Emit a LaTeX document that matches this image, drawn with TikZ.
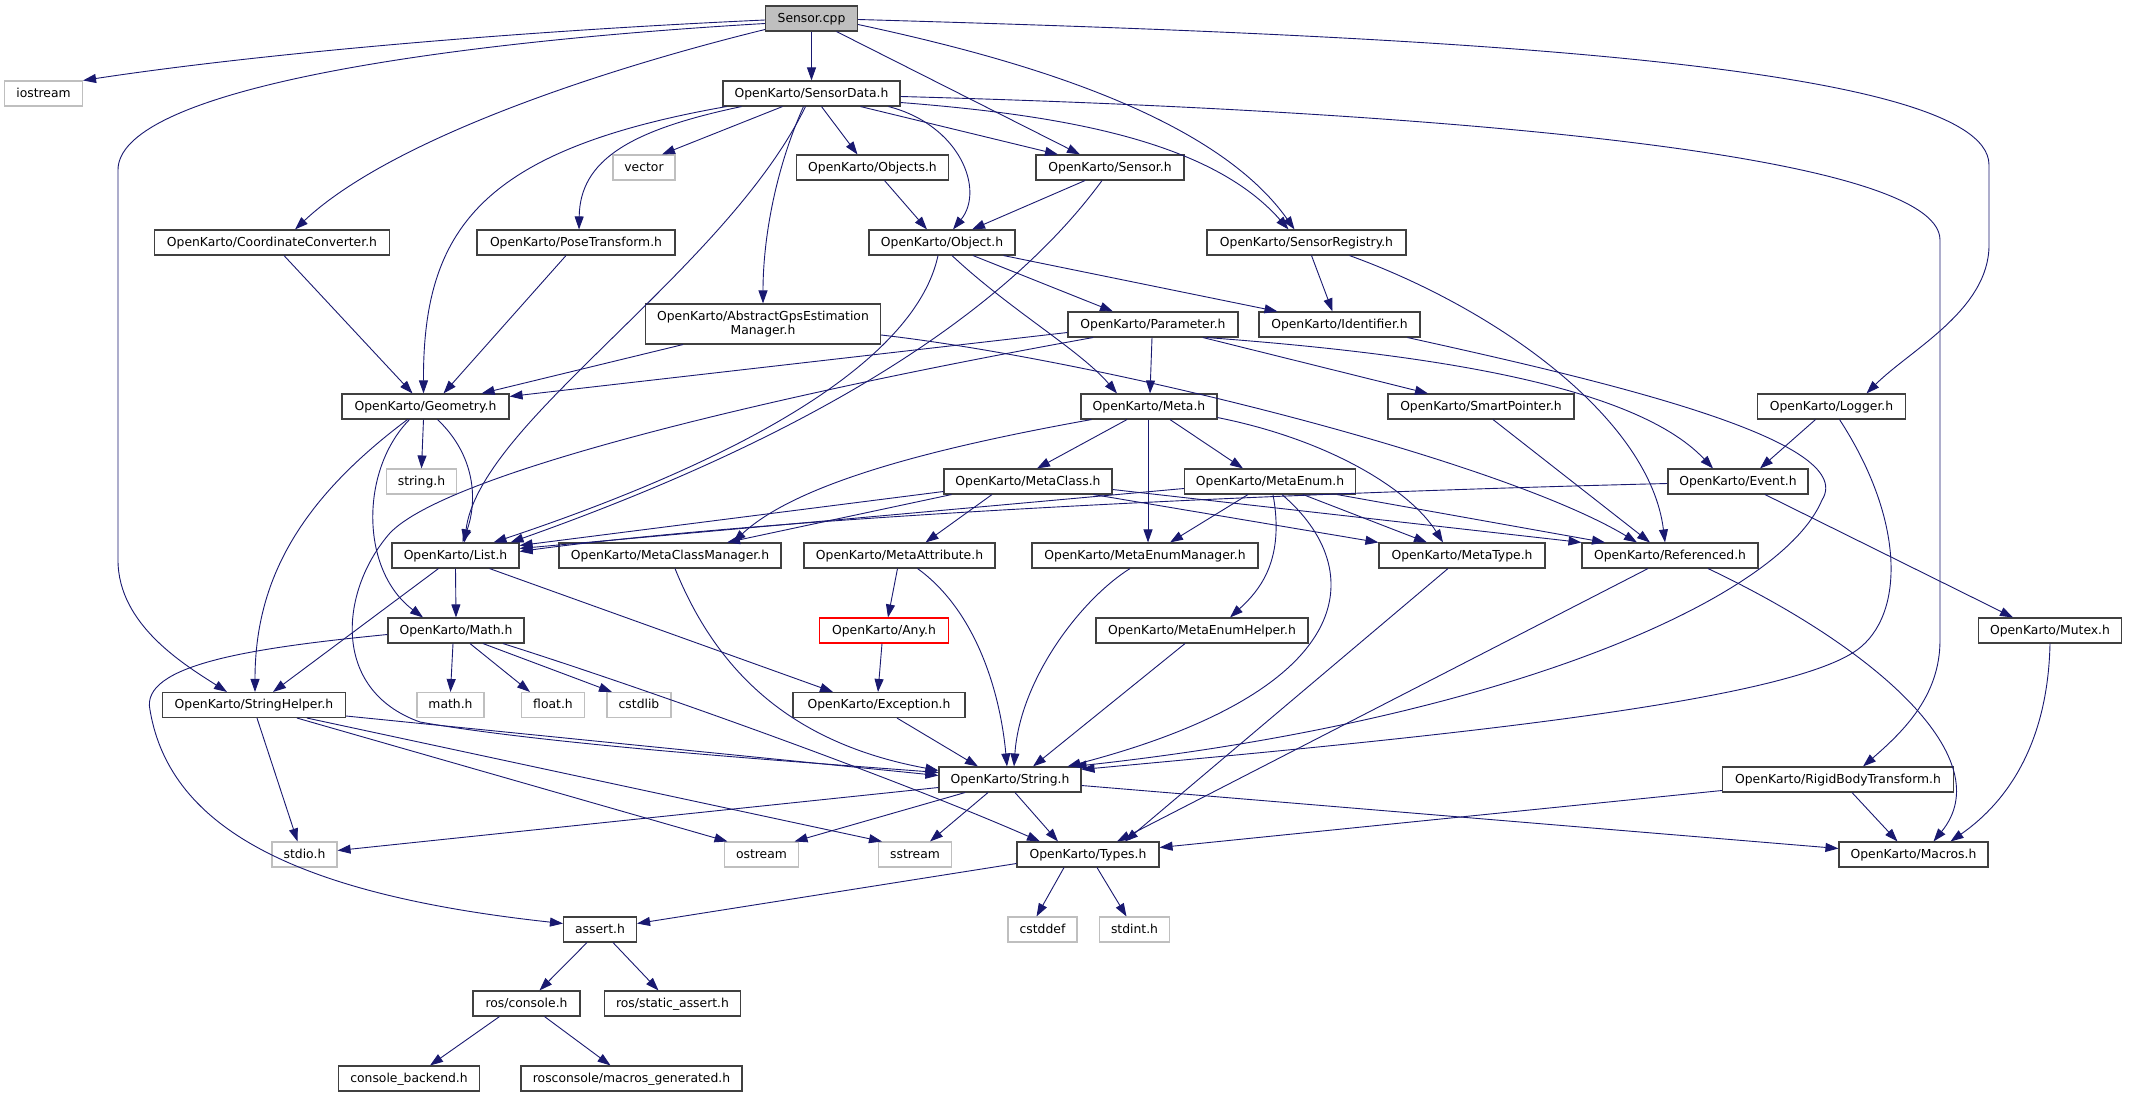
\documentclass[tikz,border=0pt]{standalone}
\usepackage{fontspec}
\setmainfont{DejaVu Sans}
\usetikzlibrary{arrows.meta}
\definecolor{edgec}{HTML}{191970}
\definecolor{bord}{HTML}{404040}
\definecolor{grayb}{HTML}{BFBFBF}
\begin{document}
\begin{tikzpicture}[x=1pt,y=-1pt,
  nb/.style={draw=bord, line width=1.1pt, fill=white, inner sep=0pt, minimum height=25pt, font=\fontsize{12.36pt}{14.3pt}\selectfont},
  nd/.style={nb, text height=9.5pt, text depth=2pt},
  gn/.style={nd, draw=grayb},
  ed/.style={draw=edgec, line width=0.9pt, -{Triangle[length=13pt,width=9pt]}}]
\fill[white] (0,0) rectangle (2144,1097);
\useasboundingbox (0,0) rectangle (2144,1097);
% ---------- nodes ----------
\node[nd, fill=grayb, minimum width=92pt] (sensorcpp) at (811.5,18.5) {Sensor.cpp};
\node[gn, minimum width=78pt] (iostream) at (43.5,93.5) {iostream};
\node[nd, minimum width=177pt] (sd) at (811.5,93.5) {OpenKarto/SensorData.h};
\node[gn, minimum width=62pt] (vector) at (644,167.5) {vector};
\node[nd, minimum width=152pt] (objects) at (872.5,167.5) {OpenKarto/Objects.h};
\node[nd, minimum width=148pt] (sensorh) at (1110,167.5) {OpenKarto/Sensor.h};
\node[nd, minimum width=235pt] (coord) at (272,242.5) {OpenKarto/CoordinateConverter.h};
\node[nd, minimum width=198pt] (pose) at (576,242.5) {OpenKarto/PoseTransform.h};
\node[nd, minimum width=146pt] (object) at (942,242.5) {OpenKarto/Object.h};
\node[nd, minimum width=199pt] (sreg) at (1306.5,242.5) {OpenKarto/SensorRegistry.h};
\node[nb, minimum width=235pt, minimum height=40pt, align=center] (agps) at (763,324) {OpenKarto/AbstractGpsEstimation\\Manager.h};
\node[nd, minimum width=170pt] (param) at (1153,324.5) {OpenKarto/Parameter.h};
\node[nd, minimum width=161pt] (ident) at (1339.5,324.5) {OpenKarto/Identifier.h};
\node[nd, minimum width=167pt] (geo) at (425.5,406.5) {OpenKarto/Geometry.h};
\node[nd, minimum width=136pt] (meta) at (1149,406.5) {OpenKarto/Meta.h};
\node[nd, minimum width=186pt] (smart) at (1481,406.5) {OpenKarto/SmartPointer.h};
\node[nd, minimum width=148pt] (logger) at (1831.5,406.5) {OpenKarto/Logger.h};
\node[gn, minimum width=70pt] (stringh) at (421.5,481.5) {string.h};
\node[nd, minimum width=168pt] (mclass) at (1028,481.5) {OpenKarto/MetaClass.h};
\node[nd, minimum width=171pt] (menum) at (1270,481.5) {OpenKarto/MetaEnum.h};
\node[nd, minimum width=140pt] (event) at (1738,481.5) {OpenKarto/Event.h};
\node[nd, minimum width=127pt] (list) at (455.5,555.5) {OpenKarto/List.h};
\node[nd, minimum width=222pt] (mcm) at (670,555.5) {OpenKarto/MetaClassManager.h};
\node[nd, minimum width=191pt] (mattr) at (899.5,555.5) {OpenKarto/MetaAttribute.h};
\node[nd, minimum width=226pt] (mem) at (1145,555.5) {OpenKarto/MetaEnumManager.h};
\node[nd, minimum width=166pt] (mtype) at (1462,555.5) {OpenKarto/MetaType.h};
\node[nd, minimum width=176pt] (ref) at (1670,555.5) {OpenKarto/Referenced.h};
\node[nd, minimum width=136pt] (math) at (456,630.5) {OpenKarto/Math.h};
\node[nd, draw=red, minimum width=129pt] (any) at (884,630.5) {OpenKarto/Any.h};
\node[nd, minimum width=212pt] (meh) at (1202,630.5) {OpenKarto/MetaEnumHelper.h};
\node[nd, minimum width=143pt] (mutex) at (2050,630.5) {OpenKarto/Mutex.h};
\node[nd, minimum width=183pt] (shelper) at (254,705) {OpenKarto/StringHelper.h};
\node[gn, minimum width=67pt] (mathh) at (450.5,705) {math.h};
\node[gn, minimum width=63pt] (floath) at (553,705) {float.h};
\node[gn, minimum width=64pt] (cstdlib) at (639,705) {cstdlib};
\node[nd, minimum width=172pt] (exc) at (879,705) {OpenKarto/Exception.h};
\node[nd, minimum width=142pt] (str) at (1010,779.5) {OpenKarto/String.h};
\node[nd, minimum width=231pt] (rigid) at (1838,779.5) {OpenKarto/RigidBodyTransform.h};
\node[gn, minimum width=65pt] (stdio) at (304.5,854.5) {stdio.h};
\node[gn, minimum width=74pt] (ostream) at (761.5,854.5) {ostream};
\node[gn, minimum width=73pt] (sstream) at (915,854.5) {sstream};
\node[nd, minimum width=142pt] (types) at (1088,854.5) {OpenKarto/Types.h};
\node[nd, minimum width=149pt] (macros) at (1913.5,854.5) {OpenKarto/Macros.h};
\node[nd, minimum width=73pt] (assert) at (600,929.5) {assert.h};
\node[gn, minimum width=69pt] (cstddef) at (1042.5,929.5) {cstddef};
\node[gn, minimum width=70pt] (stdint) at (1134.5,929.5) {stdint.h};
\node[nd, minimum width=107pt] (rcons) at (526.5,1003.5) {ros/console.h};
\node[nd, minimum width=136pt] (rsa) at (672.5,1003.5) {ros/static\_assert.h};
\node[nd, minimum width=141pt] (cback) at (409,1078.5) {console\_backend.h};
\node[nd, minimum width=221pt] (rmacro) at (631.5,1078.5) {rosconsole/macros\_generated.h};
% ---------- edges ----------
% Sensor.cpp
\draw[ed] ([yshift=-1.5pt]sensorcpp.west) .. controls (500,32) and (250,55) .. (iostream.north east);
\draw[ed] ([yshift=-5pt]sensorcpp.west) .. controls (400,45) and (118,95) .. (118,170) -- (118,560) .. controls (118,625) and (185,665) .. ([xshift=-27pt]shelper.north);
\draw[ed] ([yshift=-11pt]sensorcpp.west) .. controls (600,70) and (390,140) .. ([xshift=23pt]coord.north);
\draw[ed] (sensorcpp) -- (sd);
\draw[ed] ([xshift=25pt]sensorcpp.south) -- ([xshift=-30pt]sensorh.north);
\draw[ed] ([yshift=-6pt]sensorcpp.east) .. controls (1000,55) and (1210,110) .. ([xshift=-12pt]sreg.north);
\draw[ed] ([yshift=-1pt]sensorcpp.east) .. controls (1400,35) and (1989,60) .. (1989,165) -- (1989,245) .. controls (1989,310) and (1910,350) .. ([xshift=35pt]logger.north);
% SensorData.h
\draw[ed] ([xshift=-29pt]sd.south) -- ([xshift=18pt]vector.north);
\draw[ed] ([xshift=10pt]sd.south) -- ([xshift=-15pt]objects.north);
\draw[ed] ([xshift=49pt]sd.south) -- ([xshift=-52pt]sensorh.north);
\draw[ed] ([xshift=77pt]sd.south) .. controls (960,125) and (985,190) .. ([xshift=11pt]object.north);
\draw[ed] ([yshift=-9pt]sd.east) .. controls (1060,115) and (1210,140) .. ([xshift=-18pt]sreg.north);
\draw[ed] ([yshift=-3pt]sd.east) .. controls (1400,110) and (1940,150) .. (1940,240) -- (1940,640) .. controls (1940,695) and (1905,730) .. ([xshift=25pt]rigid.north);
\draw[ed] ([xshift=-70pt]sd.south) .. controls (630,130) and (580,160) .. ([xshift=3pt]pose.north);
\draw[ed] ([xshift=-85pt]sd.south) .. controls (480,150) and (423,230) .. ([xshift=-2pt]geo.north);
\draw[ed] ([xshift=-6pt]sd.south) .. controls (760,200) and (660,290) .. (580,370) .. controls (530,420) and (472,480) .. ([xshift=9pt]list.north);
\draw[ed] ([xshift=-8pt]sd.south) .. controls (775,170) and (763,240) .. (agps.north);
% row 4
\draw[ed] ([xshift=12pt]coord.south) -- ([xshift=-13pt]geo.north);
\draw[ed] ([xshift=-10pt]pose.south) -- ([xshift=18pt]geo.north);
\draw[ed] ([xshift=12pt]objects.south) -- ([xshift=-15pt]object.north);
\draw[ed] ([xshift=-25pt]sensorh.south) -- ([xshift=30pt]object.north);
\draw[ed] ([xshift=-8pt]sensorh.south) .. controls (1000,320) and (800,440) .. ([xshift=55pt]list.north);
\draw[ed] ([xshift=-4pt]object.south) .. controls (920,340) and (800,440) .. ([xshift=38pt]list.north);
\draw[ed] ([xshift=10pt]object.south) .. controls (1010,310) and (1080,350) .. ([xshift=-32pt]meta.north);
\draw[ed] ([xshift=31pt]object.south) -- ([xshift=-40pt]param.north);
\draw[ed] ([xshift=-12pt]object.south east) -- ([xshift=-62pt]ident.north);
\draw[ed] ([xshift=5pt]sreg.south) -- ([xshift=-7pt]ident.north);
\draw[ed] ([xshift=43pt]sreg.south) .. controls (1500,310) and (1650,420) .. ([xshift=-5pt]ref.north);
% row 5
\draw[ed] ([xshift=-80pt]agps.south) -- ([xshift=-28pt]geo.north east);
\draw[ed] ([yshift=-11pt]agps.east) .. controls (1100,360) and (1500,460) .. ([xshift=-33pt]ref.north);
\draw[ed] ([yshift=-8pt]param.west) -- ([yshift=-3pt]geo.north east);
\draw[ed] ([xshift=-60pt]param.south) .. controls (800,390) and (450,470) .. (390,533) .. controls (340,590) and (330,690) .. (420,722) .. controls (550,745) and (800,762) .. ([yshift=7pt]str.west);
\draw[ed] ([xshift=-1pt]param.south) -- ([xshift=1pt]meta.north);
\draw[ed] ([xshift=50pt]param.south) -- ([xshift=-53pt]smart.north);
\draw[ed] ([xshift=54pt]param.south) .. controls (1400,352) and (1630,380) .. ([xshift=-25pt]event.north);
\draw[ed] ([xshift=68pt]ident.south) .. controls (1600,380) and (1860,440) .. (1822,500) .. controls (1780,600) and (1500,720) .. ([xshift=-8pt]str.north east);
% row 6
\draw[ed] ([xshift=-2pt]geo.south) -- (stringh.north);
\draw[ed] ([xshift=12pt]geo.south) .. controls (475,455) and (478,500) .. ([xshift=7pt]list.north);
\draw[ed] ([xshift=-16pt]geo.south) .. controls (360,470) and (360,570) .. ([xshift=-33pt]math.north);
\draw[ed] ([xshift=-18pt]geo.south) .. controls (300,500) and (255,580) .. ([xshift=1pt]shelper.north);
\draw[ed] ([xshift=11pt]meta.south west) .. controls (950,445) and (800,480) .. ([xshift=63pt]mcm.north);
\draw[ed] ([xshift=-22pt]meta.south) -- ([xshift=9pt]mclass.north);
\draw[ed] ([xshift=21pt]meta.south) -- ([xshift=-27pt]menum.north);
\draw[ed] ([xshift=-1pt]meta.south) -- ([xshift=3pt]mem.north);
\draw[ed] ([yshift=2pt]meta.south east) .. controls (1330,440) and (1410,490) .. ([xshift=-19pt]mtype.north);
\draw[ed] ([xshift=12pt]smart.south) -- ([xshift=-20pt]ref.north);
\draw[ed] ([xshift=-16pt]logger.south) -- ([xshift=22pt]event.north);
\draw[ed] ([xshift=8pt]logger.south) .. controls (1905,520) and (1905,615) .. (1857,650) .. controls (1780,705) and (1400,740) .. ([yshift=-3pt]str.north east);
% row 7
\draw[ed] ([yshift=-10pt]mclass.west) -- ([yshift=10pt]list.east);
\draw[ed] ([xshift=8pt]mclass.south west) -- ([xshift=57pt]mcm.north);
\draw[ed] ([xshift=-36pt]mclass.south) -- ([xshift=26pt]mattr.north);
\draw[ed] ([xshift=-19pt]mclass.south east) -- (mtype.north west);
\draw[ed] ([yshift=-8pt]mclass.east) -- (ref.north west);
\draw[ed] ([yshift=-7pt]menum.west) -- ([yshift=7pt]list.east);
\draw[ed] ([xshift=-22pt]menum.south) -- ([xshift=25pt]mem.north);
\draw[ed] ([xshift=3pt]menum.south) .. controls (1285,560) and (1260,590) .. ([xshift=28pt]meh.north);
\draw[ed] ([xshift=12pt]menum.south) .. controls (1370,570) and (1360,690) .. ([xshift=-14pt]str.north east);
\draw[ed] ([xshift=33pt]menum.south) -- ([xshift=-35pt]mtype.north);
\draw[ed] ([xshift=67pt]menum.south) -- ([xshift=-65pt]ref.north);
\draw[ed] ([yshift=-2pt]event.west) .. controls (1200,495) and (750,520) .. ([yshift=4pt]list.east);
\draw[ed] ([xshift=27pt]event.south) -- ([xshift=-37pt]mutex.north);
% row 8
\draw[ed] (list.south) -- (math.north);
\draw[ed] ([xshift=-17pt]list.south) -- ([xshift=19pt]shelper.north);
\draw[ed] ([xshift=34pt]list.south) -- ([xshift=-46pt]exc.north);
\draw[ed] ([xshift=5pt]mcm.south) .. controls (720,680) and (800,745) .. ([yshift=9pt]str.west);
\draw[ed] ([xshift=-2pt]mattr.south) -- ([xshift=4pt]any.north);
\draw[ed] ([xshift=18pt]mattr.south) .. controls (975,610) and (1000,690) .. ([xshift=-3pt]str.north);
\draw[ed] ([xshift=-15pt]mem.south) .. controls (1080,600) and (1020,680) .. ([xshift=4pt]str.north);
\draw[ed] ([xshift=-14pt]mtype.south) -- ([xshift=37pt]types.north);
\draw[ed] ([xshift=-22pt]ref.south) -- ([xshift=29pt]types.north);
\draw[ed] ([xshift=38pt]ref.south) .. controls (1880,650) and (2000,760) .. ([xshift=20pt]macros.north);
% row 9
\draw[ed] ([xshift=-3pt]math.south) -- (mathh.north);
\draw[ed] ([xshift=14pt]math.south) -- ([xshift=-23pt]floath.north);
\draw[ed] ([xshift=27pt]math.south) -- ([xshift=-27pt]cstdlib.north);
\draw[ed] ([yshift=-4pt]math.west) .. controls (250,648) and (140,665) .. (150,710) .. controls (170,830) and (300,895) .. ([yshift=6pt]assert.west);
\draw[ed] ([xshift=47pt]math.south) .. controls (650,690) and (900,780) .. ([xshift=-48pt]types.north);
\draw[ed] ([xshift=-2pt]any.south) -- ([xshift=-1pt]exc.north);
\draw[ed] ([xshift=-17pt]meh.south) -- ([xshift=23pt]str.north);
\draw[ed] (mutex.south) .. controls (2048,740) and (2010,800) .. ([xshift=37pt]macros.north);
% row 10
\draw[ed] ([xshift=3pt]shelper.south) -- ([xshift=-7pt]stdio.north);
\draw[ed] ([yshift=-11pt]shelper.east) -- ([yshift=4pt]str.west);
\draw[ed] ([xshift=43pt]shelper.south) -- ([xshift=-34pt]ostream.north);
\draw[ed] ([xshift=53pt]shelper.south) -- ([xshift=-33pt]sstream.north);
\draw[ed] ([xshift=18pt]exc.south) -- ([xshift=-32pt]str.north);
% row 11
\draw[ed] ([yshift=-8pt]str.west) -- ([yshift=4pt]stdio.east);
\draw[ed] ([xshift=-45pt]str.south) -- ([xshift=33pt]ostream.north);
\draw[ed] ([xshift=-22pt]str.south) -- ([xshift=15pt]sstream.north);
\draw[ed] ([xshift=5pt]str.south) -- ([xshift=-30pt]types.north);
\draw[ed] ([yshift=-6pt]str.east) -- ([yshift=6pt]macros.west);
\draw[ed] ([xshift=14pt]rigid.south) -- ([xshift=-16pt]macros.north);
\draw[ed] ([yshift=-11pt]rigid.west) -- ([yshift=7pt]types.east);
% row 12
\draw[ed] ([yshift=-9pt]types.west) -- ([yshift=6pt]assert.east);
\draw[ed] ([xshift=-24pt]types.south) -- ([xshift=-6pt]cstddef.north);
\draw[ed] ([xshift=9pt]types.south) -- ([xshift=-8pt]stdint.north);
% row 13-14
\draw[ed] ([xshift=-13pt]assert.south) -- ([xshift=13pt]rcons.north);
\draw[ed] ([xshift=13pt]assert.south) -- ([xshift=-14pt]rsa.north);
\draw[ed] ([xshift=-27pt]rcons.south) -- ([xshift=21pt]cback.north);
\draw[ed] ([xshift=18pt]rcons.south) -- ([xshift=-21pt]rmacro.north);
\end{tikzpicture}
\end{document}
